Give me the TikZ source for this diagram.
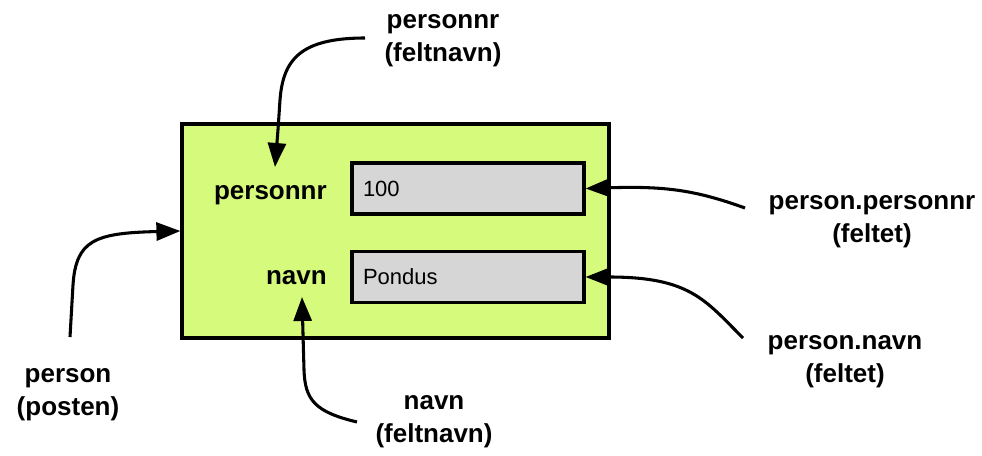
\documentclass[tikz,border=0pt]{standalone}
\usepackage{fontspec}
\setmainfont{Liberation Sans}
\usetikzlibrary{arrows.meta}
\definecolor{boxgreen}{RGB}{214,250,124}
\definecolor{fieldgrey}{RGB}{214,214,214}
\tikzset{
  outer/.style={draw=black, line width=2.4pt, fill=boxgreen, minimum width=320.25pt, minimum height=160.5pt, inner sep=0pt},
  field/.style={draw=black, line width=2.4pt, fill=fieldgrey, minimum width=174pt, minimum height=38.25pt, text width=157.5pt, inner xsep=8.25pt, align=left, font=\fontsize{16.5}{19}\selectfont},
  fname/.style={inner sep=0pt, font=\fontsize{19.5}{24}\selectfont\bfseries},
  note/.style={inner sep=0pt, align=center, font=\fontsize{19.5}{24.75}\selectfont\bfseries},
  arr/.style={line width=2.3pt, -{Triangle[length=18pt,width=13.5pt]}}
}
\begin{document}
\begin{tikzpicture}[x=0.75pt,y=-0.75pt]
\path[use as bounding box] (0,0) rectangle (982,456);
% main record box
\node[outer] (box) at (395.5,231) {};
\node[field] (f1) at (468,188.5) {100};
\node[field] (f2) at (468,277) {Pondus};
\node[fname, anchor=east] (lp) at (327,195) {personnr};
\node[fname, anchor=east] (ln) at (327,278) {navn};
% annotations
\node[note] (tl) at (443,41) {personnr\\(feltnavn)};
\node[note] (rl1) at (872,222) {person.personnr\\(feltet)};
\node[note] (rl2) at (845,362) {person.navn\\(feltet)};
\node[note] (ll) at (68,395) {person\\(posten)};
\node[note] (bl) at (434,422) {navn\\(feltnavn)};
% free ends of connectors
\coordinate (ctl) at (365,38);
\coordinate (crl1) at (745,208);
\coordinate (crl2) at (743,338);
\coordinate (cll) at (70,337);
\coordinate (cbl) at (357,422);
\coordinate (tlp) at (275,167);
\coordinate (tln) at (302,297);
% connectors
\draw[arr] (ctl) .. controls (300,38) and (283,60) .. (280,100) .. controls (278,130) .. (tlp);
\draw[arr] (crl1) .. controls (695,190) and (665,186) .. (f1.east);
\draw[arr] (crl2) .. controls (705,300) and (690,277) .. (f2.east);
\draw[arr] (cll) -- (73,285) .. controls (76,240) and (95,233) .. (box.west);
\draw[arr] (cbl) .. controls (315,412) and (305,400) .. (304,370) -- (tln);
\end{tikzpicture}
\end{document}
